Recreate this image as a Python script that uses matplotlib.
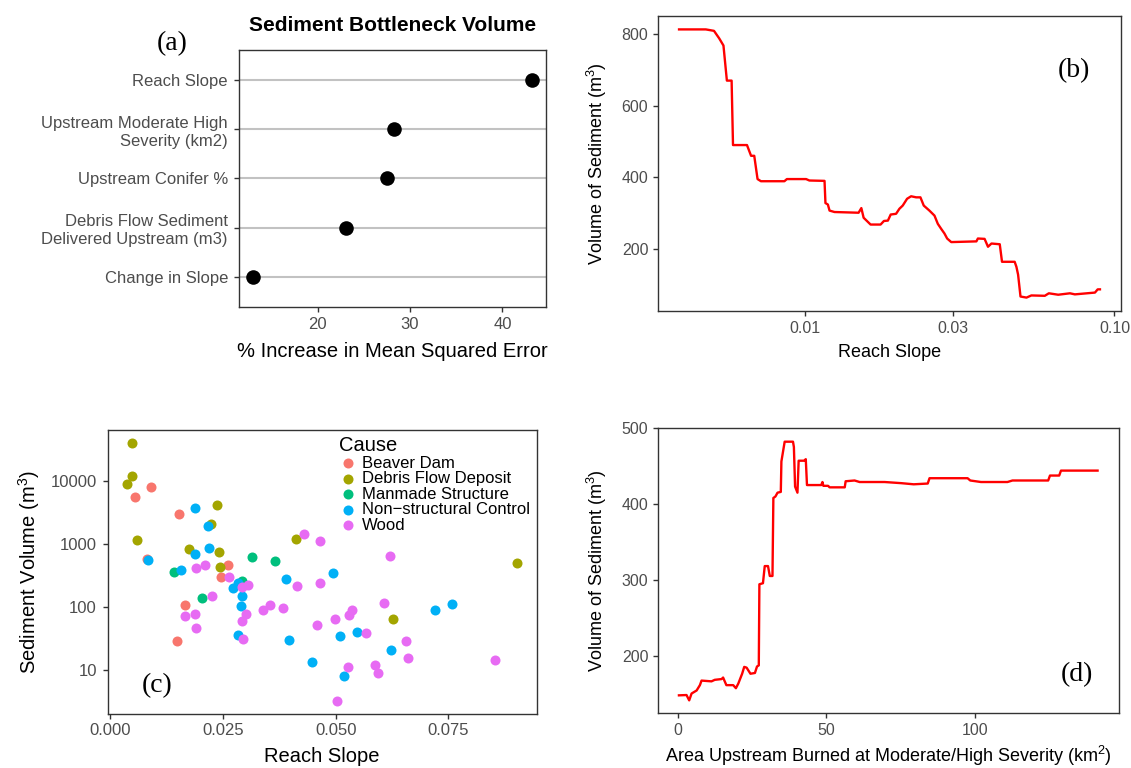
import numpy as np
import matplotlib
matplotlib.use("Agg")
import matplotlib.pyplot as plt
from matplotlib.ticker import FixedLocator, FixedFormatter, NullLocator

plt.rcParams['font.family'] = ['Liberation Sans', 'DejaVu Sans']
plt.rcParams['mathtext.fontset'] = 'custom'
plt.rcParams['mathtext.rm'] = 'Liberation Sans'

W, H = 1131, 768

# ---------------- data ----------------
# (a) random-forest variable importance
importance_vars = ["Reach Slope",
                   "Upstream Moderate High\nSeverity (km2)",
                   "Upstream Conifer %",
                   "Debris Flow Sediment\nDelivered Upstream (m3)",
                   "Change in Slope"]
importance_pct = [43.2, 28.3, 27.5, 23.1, 13.0]

# (b) partial dependence on reach slope
pd_slope = [0.00390, 0.00476, 0.00506, 0.00526, 0.00543, 0.00557, 0.00577, 0.00583, 0.00647, 0.00667,
            0.00683, 0.00700, 0.00718, 0.00855, 0.00871, 0.01005, 0.0103, 0.01153, 0.01161, 0.01182,
            0.01197, 0.01242, 0.01486, 0.01517, 0.01543, 0.01625, 0.01751, 0.01795, 0.01849, 0.01888,
            0.01965, 0.02014, 0.02065, 0.02133, 0.02198, 0.02282, 0.02356, 0.02415, 0.02519, 0.02616,
            0.02682, 0.02750, 0.02818, 0.02875, 0.02964, 0.03575, 0.03615, 0.03800, 0.03898, 0.04000,
            0.04255, 0.04327, 0.04755, 0.04817, 0.04878, 0.04966, 0.05193, 0.05385, 0.05952, 0.06134,
            0.06577, 0.07178, 0.07447, 0.08650, 0.08826, 0.08977]
pd_slope_volume = [813, 813, 809, 788, 768, 670, 670, 490, 490, 460,
                   460, 395, 389, 389, 395, 395, 391, 390, 328, 324,
                   307, 303, 301, 314, 287, 268, 268, 278, 279, 296,
                   298, 312, 321, 340, 347, 344, 344, 321, 307, 293,
                   270, 256, 243, 229, 219, 221, 229, 228, 206, 215,
                   213, 164, 164, 150, 128, 67, 64, 70, 69, 76,
                   72, 76, 73, 78, 87, 87]

# (c) observed bottlenecks by cause
causes = ["Beaver Dam", "Debris Flow Deposit", "Manmade Structure",
          "Non\u2212structural Control", "Wood"]
cause_colors = ["#F8766D", "#A3A500", "#00BF7D", "#00B0F6", "#E76BF3"]

beaver_slope = [0.00905, 0.0056, 0.01517, 0.0082, 0.0262, 0.0245, 0.01656, 0.01488]
beaver_vol = [7940, 5530, 2930, 570, 457, 294, 104.5, 28.9]

debris_slope = [0.00479, 0.00494, 0.00384, 0.00605, 0.02362, 0.02238, 0.01752, 0.02414,
                0.02444, 0.04128, 0.0902, 0.0627]
debris_vol = [40300, 12100, 9070, 1160, 4100, 2066, 817, 743, 432, 1203, 499, 63]

manmade_slope = [0.03143, 0.03651, 0.01413, 0.02923, 0.02046]
manmade_vol = [621, 537, 361, 258, 136.5]

nonstruct_slope = [0.0187, 0.02164, 0.02185, 0.0187, 0.00839, 0.01576, 0.03907, 0.02724,
                   0.02834, 0.02923, 0.0290, 0.0284, 0.0396, 0.04468, 0.07587, 0.07205,
                   0.05468, 0.05086, 0.06225, 0.05174, 0.04932]
nonstruct_vol = [3680, 1900, 869, 700, 543, 388, 277, 196, 234, 148, 100.7, 35, 29.5,
                 13.3, 112, 87, 39.5, 33.7, 20.1, 7.9, 340]

wood_slope = [0.04305, 0.04651, 0.06197, 0.01907, 0.02113, 0.02627, 0.0305, 0.0293,
              0.04143, 0.04658, 0.02267, 0.03393, 0.03541, 0.03834, 0.03018, 0.0293,
              0.01664, 0.0187, 0.01914, 0.02945, 0.04585, 0.04975, 0.05298, 0.05358,
              0.05682, 0.06064, 0.0655, 0.0661, 0.08536, 0.05865, 0.05938, 0.05263, 0.0502]
wood_vol = [1440, 1107, 644, 418, 458, 294, 222, 205, 215, 237, 150, 88.6, 106, 93.8,
            77.4, 60, 72, 76.6, 46, 31, 50.7, 64, 74.7, 89.4, 38, 115, 27.9, 15.2, 14.2,
            12, 8.8, 11.1, 3.2]

# (d) partial dependence on burned area
pd_area = [0.45, 3.0, 3.9, 4.7, 6.4, 7.5, 8.05, 11.4, 12.5, 14.8, 15.3, 16.4, 18.7, 19.6,
           20.4, 21.7, 22.4, 23.2, 24.5, 26.0, 26.7, 27.3, 27.5, 28.7, 29.3, 30.4, 31.0,
           31.9, 32.2, 32.9, 33.6, 34.7, 34.9, 36.0, 38.8, 39.1, 39.5, 40.3, 40.7, 42.5,
           43.1, 43.5, 48.3, 48.7, 49.0, 50.6, 51.1, 56.2, 56.5, 59.5, 61.2, 69.6, 75.2,
           79.4, 84.1, 84.7, 97.5, 98.4, 102.0, 110.9, 112.6, 124.6, 125.2, 128.3, 128.9, 141.2]
pd_area_volume = [148.6, 149, 142, 151, 155, 162, 168, 167, 169, 170, 172, 162, 162, 158,
                  164, 177, 186, 185, 177, 178, 186.5, 188, 294.6, 296, 318.5, 318.5, 305.5,
                  305.5, 408, 410, 415, 416, 456, 482, 482, 475, 423, 415, 457, 457,
                  459, 425, 425, 429, 424, 424, 422, 422, 430, 431, 429, 429, 427.5,
                  426, 427, 434, 434, 431, 429, 429, 431, 431, 437.5, 437.5, 444, 444]

# ---------------- styling helpers ----------------
TICK_COLOR = "#4D4D4D"
FRAME_COLOR = "#333333"


def add_axes_px(left, top, right, bottom):
    return fig.add_axes([left / W, 1 - bottom / H, (right - left) / W, (bottom - top) / H])


def style(ax, tick_size, pad=3.5):
    for s in ax.spines.values():
        s.set_color(FRAME_COLOR)
        s.set_linewidth(1.0)
    ax.tick_params(axis="both", which="major", direction="out", length=3.5, width=1.0,
                   color=FRAME_COLOR, labelcolor=TICK_COLOR, labelsize=tick_size, pad=pad)
    ax.tick_params(axis="both", which="minor", length=0)
    ax.set_facecolor("white")


def expand(lo, hi, frac=0.05):
    r = hi - lo
    return lo - frac * r, hi + frac * r


def panel_tag(text, x, y):
    fig.text(x / W, 1 - y / H, text, ha="center", va="center",
             family=["Liberation Serif"], fontsize=20, color="black")


fig = plt.figure(figsize=(W / 100, H / 100), dpi=100)

# ---------------- (a) importance dot plot ----------------
ax_a = add_axes_px(239, 50, 546, 307)
ypos = np.arange(len(importance_vars), 0, -1)
ax_a.set_ylim(0.4, len(importance_vars) + 0.6)
ax_a.set_xlim(*expand(min(importance_pct), max(importance_pct)))
for y in ypos:
    ax_a.axhline(y, color="#C2C2C2", lw=1.5, zorder=1)
ax_a.scatter(importance_pct, ypos, s=110, color="black", zorder=3, linewidths=0)
ax_a.set_yticks(ypos)
ax_a.set_yticklabels(importance_vars, linespacing=1.25)
ax_a.set_xticks([20, 30, 40])
style(ax_a, 12, pad=4.5)
ax_a.tick_params(axis="x", pad=3.5)
ax_a.set_xlabel("% Increase in Mean Squared Error", fontsize=14.5, color="black")
ax_a.xaxis.set_label_coords(0.5, -0.136)
ax_a.set_title("Sediment Bottleneck Volume", fontsize=15, fontweight="bold", pad=14)
panel_tag("(a)", 172, 44)

# ---------------- (b) partial dependence: reach slope ----------------
ax_b = add_axes_px(658, 16, 1121, 311)
ax_b.plot(pd_slope, pd_slope_volume, color="red", lw=1.7, solid_joinstyle="round")
ax_b.set_xscale("log")
lx = np.log10([min(pd_slope), max(pd_slope)])
lo, hi = expand(lx[0], lx[1])
ax_b.set_xlim(10 ** lo, 10 ** hi)
ax_b.set_ylim(*expand(min(pd_slope_volume), max(pd_slope_volume)))
ax_b.xaxis.set_major_locator(FixedLocator([0.01, 0.03, 0.1]))
ax_b.xaxis.set_major_formatter(FixedFormatter(["0.01", "0.03", "0.10"]))
ax_b.xaxis.set_minor_locator(NullLocator())
ax_b.set_yticks([200, 400, 600, 800])
style(ax_b, 11.5)
ax_b.set_xlabel("Reach Slope", fontsize=13, color="black")
ax_b.xaxis.set_label_coords(0.5, -0.113)
ax_b.set_ylabel("Volume of Sediment (m$^3$)", fontsize=13, color="black")
ax_b.yaxis.set_label_coords(-0.106, 0.5)
panel_tag("(b)", 1074, 71)

# ---------------- (c) scatter of observed bottlenecks ----------------
ax_c = add_axes_px(108, 430, 536.5, 713.5)
groups = [(beaver_slope, beaver_vol), (debris_slope, debris_vol), (manmade_slope, manmade_vol),
          (nonstruct_slope, nonstruct_vol), (wood_slope, wood_vol)]
all_x, all_y = [], []
for (xs, ys), name, col in zip(groups, causes, cause_colors):
    ax_c.scatter(xs, ys, s=52, color=col, linewidths=0, label=name, zorder=3)
    all_x += xs
    all_y += ys
ax_c.set_yscale("log")
ax_c.set_xlim(*expand(min(all_x), max(all_x)))
ly = np.log10([min(all_y), max(all_y)])
lo, hi = expand(ly[0], ly[1])
ax_c.set_ylim(10 ** lo, 10 ** hi)
ax_c.set_xticks([0.0, 0.025, 0.05, 0.075])
ax_c.set_xticklabels(["0.000", "0.025", "0.050", "0.075"])
ax_c.yaxis.set_major_locator(FixedLocator([10, 100, 1000, 10000]))
ax_c.yaxis.set_major_formatter(FixedFormatter(["10", "100", "1000", "10000"]))
ax_c.yaxis.set_minor_locator(NullLocator())
style(ax_c, 12, pad=4.5)
ax_c.tick_params(axis="x", pad=3.5)
ax_c.set_xlabel("Reach Slope", fontsize=14.5, color="black")
ax_c.xaxis.set_label_coords(0.5, -0.118)
ax_c.set_ylabel("Sediment Volume (m$^3$)", fontsize=14.5, color="black")
ax_c.yaxis.set_label_coords(-0.155, 0.5)
leg = ax_c.legend(title="Cause", loc="upper left", bbox_to_anchor=(0.54, 0.978),
                  frameon=False, fontsize=12, title_fontsize=14.5, borderpad=0,
                  labelspacing=0.03, handletextpad=0.35, handlelength=1.0,
                  borderaxespad=0, alignment="left", markerscale=1.0)
panel_tag("(c)", 157, 686)

# ---------------- (d) partial dependence: burned area ----------------
ax_d = add_axes_px(658, 428, 1118.5, 713.3)
ax_d.plot(pd_area, pd_area_volume, color="red", lw=1.7, solid_joinstyle="round")
ax_d.set_xlim(*expand(min(pd_area), max(pd_area)))
ax_d.set_ylim(*expand(min(pd_area_volume), max(pd_area_volume)))
ax_d.set_xticks([0, 50, 100])
ax_d.set_yticks([200, 300, 400, 500])
style(ax_d, 11.5)
ax_d.set_xlabel("Area Upstream Burned at Moderate/High Severity (km$^2$)", fontsize=13, color="black")
ax_d.xaxis.set_label_coords(0.5, -0.108)
ax_d.set_ylabel("Volume of Sediment (m$^3$)", fontsize=13, color="black")
ax_d.yaxis.set_label_coords(-0.107, 0.5)
panel_tag("(d)", 1077, 675)

fig.savefig("out.png", dpi=100, facecolor="white")
